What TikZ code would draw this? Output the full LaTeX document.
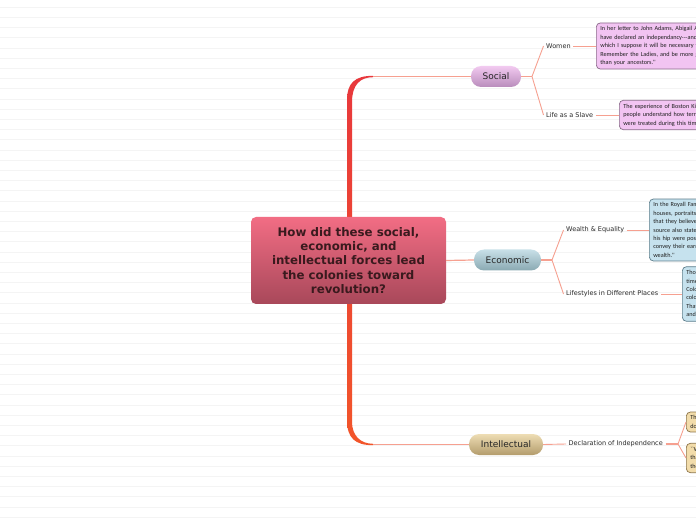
\documentclass[tikz,border=0pt]{standalone}
\usepackage{fontspec}
\setmainfont{DejaVu Sans}
\newfontfamily\boxfont{Carlito}
\usetikzlibrary{calc}
\definecolor{cTop}{HTML}{F26D84}
\definecolor{cBot}{HTML}{A8485A}
\definecolor{cText}{HTML}{3A1A1E}
\definecolor{socTop}{HTML}{F2CAF0}
\definecolor{socBot}{HTML}{B98CBC}
\definecolor{ecoTop}{HTML}{C8E0E8}
\definecolor{ecoBot}{HTML}{8AA9B2}
\definecolor{intTop}{HTML}{EEDDB4}
\definecolor{intBot}{HTML}{B39C6C}
\definecolor{purFill}{HTML}{F2C4F2}
\definecolor{purDraw}{HTML}{8A6A8A}
\definecolor{bluFill}{HTML}{C6E2EE}
\definecolor{bluDraw}{HTML}{5E7E8C}
\definecolor{tanFill}{HTML}{F2DCAA}
\definecolor{tanDraw}{HTML}{8C7448}
\definecolor{linkCol}{HTML}{F6A090}
\definecolor{trunkTop}{HTML}{E8383C}
\definecolor{trunkBot}{HTML}{F2552A}
\definecolor{labText}{HTML}{2A2A2A}
\definecolor{bgLine}{HTML}{F4F4F4}
\begin{document}
\begin{tikzpicture}[x=1pt,y=1pt,
  bgline/.style={draw=bgLine,line width=1pt},
  centerbox/.style={rounded corners=5pt,top color=cTop,bottom color=cBot,
    minimum width=195pt,minimum height=87pt,align=center,inner sep=0pt,
    font=\bfseries\fontsize{11.8}{14.3}\selectfont,text=cText},
  pill/.style={rounded corners=10pt,minimum height=21pt,inner sep=0pt,
    font=\fontsize{9}{11}\selectfont,text=black!85},
  lbl/.style={inner sep=2.5pt,anchor=west,font=\fontsize{6.5}{8}\selectfont,text=labText},
  note/.style={anchor=west,rounded corners=4pt,draw,line width=0.7pt,
    inner xsep=4pt,inner ysep=3.6pt,align=left,text width=230pt,
    font=\boxfont\fontsize{6.2}{8.4}\selectfont,text=black!88},
  link/.style={draw=linkCol,line width=0.9pt},
  thicklink/.style={draw=linkCol,line width=1.6pt}
]
\useasboundingbox (0,0) rectangle (696,520);
\clip (0,0) rectangle (696,520);
\fill[white] (0,0) rectangle (696,520);
\foreach \k in {0,...,50} \draw[bgline] (0,{520-7.3-10.2*\k}) -- (696,{520-7.3-10.2*\k});

% trunk
\shade[top color=trunkTop,bottom color=trunkBot]
  (347,420) .. controls (347,437) and (355,444.2) .. (373,444.2) -- (373,442.8)
  .. controls (360,442.8) and (352,435) .. (352,418) -- (352,98)
  .. controls (352,85) and (360,76.2) .. (373,76.2) -- (373,74.8)
  .. controls (355,74.8) and (347,82) .. (347,100) -- cycle;
\coordinate (ta) at (373,443.5);
\coordinate (tb) at (373,75.5);

% central node
\node[centerbox] (q) at (348.5,259.5) {How did these social,\\economic, and\\intellectual forces lead\\the colonies toward\\revolution?};

% main topics
\node[pill,top color=socTop,bottom color=socBot,minimum width=50pt] (social) at (496,443.5) {Social};
\node[pill,top color=ecoTop,bottom color=ecoBot,minimum width=67pt] (econ) at (507.5,260) {Economic};
\node[pill,top color=intTop,bottom color=intBot,minimum width=74pt] (intel) at (506,75.5) {Intellectual};

% labels
\node[lbl] (women) at (543.5,474) {Women};
\node[lbl] (slave) at (543.5,405) {Life as a Slave};
\node[lbl] (wealth) at (563.5,290) {Wealth \& Equality};
\node[lbl] (life) at (563.5,226) {Lifestyles in Different Places};
\node[lbl] (decl) at (566,76) {Declaration of Independence};

% notes
\node[note,fill=purFill,draw=purDraw] (n1) at (596,474) {In her letter to John Adams, Abigail Adams wrote, ``I long to hear that you\\have declared an independancy---and by the way in the new Code of Laws\\which I suppose it will be necessary for you to make I desire you would\\Remember the Ladies, and be more generous and favourable to them\\than your ancestors.''};
\node[note,fill=purFill,draw=purDraw] (n2) at (619,405) {The experience of Boston King helps\\people understand how terribly slaves\\were treated during this time.};
\node[note,fill=bluFill,draw=bluDraw] (n3) at (649,290) {In the Royall Family portrait, the family is\\houses, portraits, and fine clothing showing\\that they believed in their own wealth. The\\source also states that the man with his hand on\\his hip were posed to show their power and\\convey their earned status and their\\wealth.''};
\node[note,fill=bluFill,draw=bluDraw] (n4) at (682,226) {Though people lived differently at this\\time, those living in the Southern\\Colonies had a different lifestyle than\\colonists living in the North.\\That is because of the climate\\and the economy.};
\node[note,fill=tanFill,draw=tanDraw] (n5) at (686,98) {The Declaration of Independence was a\\document that declared freedom.};
\node[note,fill=tanFill,draw=tanDraw] (n6) at (686,62) {``We hold these truths to be self-evident,\\that all men are created equal, that\\they are endowed by their Creator.''};

% connectors
\draw[link,line width=1.2pt] (ta) -- (social.west);
\draw[link,line width=1.2pt] (tb) -- (intel.west);
\draw[link,line width=1.2pt] (q.east) -- (econ.west);

\coordinate (sf) at (532,443.5);
\draw[thicklink] (social.east) -- (sf);
\draw[link] (sf) -- (women.west);
\draw[link] (sf) -- (slave.west);
\draw[link] (women.east) -- (n1.west);
\draw[link] (slave.east) -- (n2.west);

\coordinate (ef) at (552,260);
\draw[thicklink] (econ.east) -- (ef);
\draw[link] (ef) -- (wealth.west);
\draw[link] (ef) -- (life.west);
\draw[link] (wealth.east) -- (n3.west);
\draw[link] (life.east) -- (n4.west);

\coordinate (df) at (678,76);
\draw[link] (intel.east) -- (decl.west);
\draw[thicklink] (decl.east) -- (df);
\draw[link] (df) -- (n5.west);
\draw[link] (df) -- (n6.west);
\end{tikzpicture}
\end{document}
